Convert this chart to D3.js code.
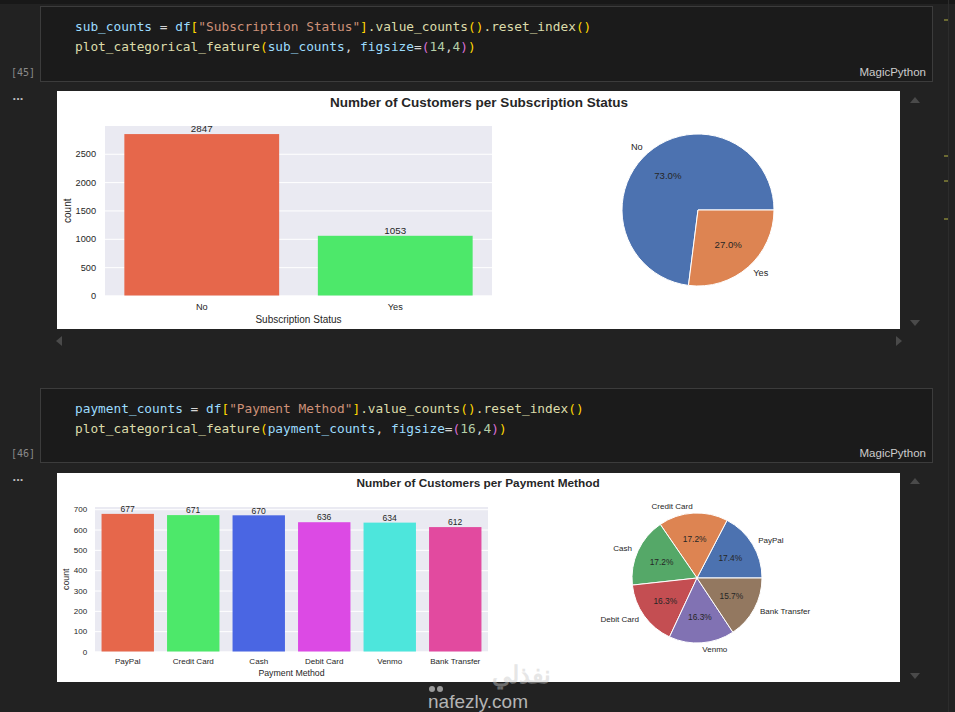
<!DOCTYPE html>
<html lang="en">
<head>
  <meta charset="utf-8">
  <title>Number of Customers</title>
  <script src="https://cdn.jsdelivr.net/npm/d3@7"></script>
<style>
body { margin: 0; background: #222; }
svg { display: block; }
text { font-family: "Liberation Sans", Arial, sans-serif; }
.code text, text.code { font-family: "DejaVu Sans Mono", "Liberation Mono", monospace; }
</style>
</head>
<body>
<svg id="page" width="955" height="712"></svg>
<script>

// data
var subCategories = ['No', 'Yes'];
var subValues = [2847, 1053];
var subTicks = [0, 500, 1000, 1500, 2000, 2500];

var payCategories = ['PayPal', 'Credit Card', 'Cash', 'Debit Card', 'Venmo', 'Bank Transfer'];
var payValues = [677, 671, 670, 636, 634, 612];
var payTicks = [0, 100, 200, 300, 400, 500, 600, 700];

var barColors = ['#e6674b', '#4de86a', '#4a66e3', '#dc4ae4', '#4de6dc', '#e24a9f'];
var pieColors = ['#4c72b0', '#dd8452', '#55a868', '#c44e52', '#8172b3', '#937860'];

var codeColors = { v: '#9cdcfe', o: '#d4d4d4', s: '#ce9178', f: '#dcdcaa', b1: '#ffd700', b2: '#da70d6', n: '#b5cea8' };

var cells = [
  {
    top: 6, bottom: 81, count: '[45]',
    lines: [
      [['sub_counts', 'v'], [' = ', 'o'], ['df', 'v'], ['[', 'b1'], ['"Subscription Status"', 's'], [']', 'b1'], ['.value_counts', 'f'], ['()', 'b1'], ['.reset_index', 'f'], ['()', 'b1']],
      [['plot_categorical_feature', 'f'], ['(', 'b1'], ['sub_counts', 'v'], [', ', 'o'], ['figsize', 'v'], ['=', 'o'], ['(', 'b2'], ['14', 'n'], [',', 'o'], ['4', 'n'], [')', 'b2'], [')', 'b1']]
    ]
  },
  {
    top: 388, bottom: 462, count: '[46]',
    lines: [
      [['payment_counts', 'v'], [' = ', 'o'], ['df', 'v'], ['[', 'b1'], ['"Payment Method"', 's'], [']', 'b1'], ['.value_counts', 'f'], ['()', 'b1'], ['.reset_index', 'f'], ['()', 'b1']],
      [['plot_categorical_feature', 'f'], ['(', 'b1'], ['payment_counts', 'v'], [', ', 'o'], ['figsize', 'v'], ['=', 'o'], ['(', 'b2'], ['16', 'n'], [',', 'o'], ['4', 'n'], [')', 'b2'], [')', 'b1']]
    ]
  }
];

var svg = d3.select('#page');
var textColor = '#262626';

// editor chrome
svg.append('rect').attr('width', 955).attr('height', 712).attr('fill', '#222222');
svg.append('rect').attr('width', 955).attr('height', 4).attr('fill', '#181818');
svg.append('line').attr('x1', 948.5).attr('x2', 948.5).attr('y1', 0).attr('y2', 712).attr('stroke', '#2c2c2c');
[19, 155, 180, 218].forEach(function (y) {
  svg.append('rect').attr('x', 944).attr('y', y).attr('width', 4).attr('height', 2).attr('fill', '#6b6a32');
});

cells.forEach(function (c) {
  svg.append('rect')
    .attr('x', 40.5).attr('y', c.top + .5)
    .attr('width', 892).attr('height', c.bottom - c.top)
    .attr('fill', '#1b1b1b').attr('stroke', '#3c3c3c');
  var code = svg.append('g').attr('class', 'code');
  c.lines.forEach(function (tokens, i) {
    var t = code.append('text')
      .attr('x', 75).attr('y', c.top + 25 + i * 20)
      .attr('font-size', 12.8)
      .attr('xml:space', 'preserve');
    tokens.forEach(function (tk) {
      t.append('tspan').attr('fill', codeColors[tk[1]]).text(tk[0]);
    });
  });
  svg.append('text').attr('class', 'code')
    .attr('x', 11).attr('y', c.bottom - 5)
    .attr('font-size', 10).attr('fill', '#8a8a8a').text(c.count);
  svg.append('text')
    .attr('x', 926).attr('y', c.bottom - 5)
    .attr('text-anchor', 'end')
    .attr('font-size', 11.5).attr('fill', '#cccccc').text('MagicPython');
  svg.append('text')
    .attr('x', 18).attr('y', c.bottom + 19)
    .attr('text-anchor', 'middle')
    .attr('font-size', 13).attr('font-weight', 'bold').attr('fill', '#bbbbbb').text('...');
});

function triangle(x, y, dir) {
  var p = {
    up: [[x - 5, y + 3], [x + 5, y + 3], [x, y - 3]],
    down: [[x - 5, y - 3], [x + 5, y - 3], [x, y + 3]],
    left: [[x + 3, y - 5], [x + 3, y + 5], [x - 3, y]],
    right: [[x - 3, y - 5], [x - 3, y + 5], [x + 3, y]]
  }[dir];
  svg.append('polygon').attr('points', p.join(' ')).attr('fill', '#4a4a4a');
}
triangle(915, 100, 'up');
triangle(915, 323, 'down');
triangle(59, 341, 'left');
triangle(899, 341, 'right');
triangle(915, 481, 'up');
triangle(915, 676, 'down');

// one figure: bar plot + pie, like plot_categorical_feature
function drawFeature(cfg) {
  var fig = svg.append('g');
  var k = cfg.scale;
  fig.append('rect')
    .attr('x', cfg.x0).attr('y', cfg.y0)
    .attr('width', cfg.x1 - cfg.x0).attr('height', cfg.y1 - cfg.y0)
    .attr('fill', '#ffffff');

  fig.append('text')
    .attr('x', cfg.titleX).attr('y', cfg.titleY)
    .attr('text-anchor', 'middle').attr('dominant-baseline', 'central')
    .attr('font-size', 13.5 * k).attr('font-weight', 'bold').attr('fill', textColor)
    .text(cfg.title);

  var b = cfg.bar;
  var x = d3.scaleBand().domain(cfg.categories).range([b.left, b.right]).paddingInner(0.2).paddingOuter(0.1);
  var y = d3.scaleLinear().domain([0, d3.max(cfg.values) * 1.05]).range([b.bottom, b.top]);

  fig.append('rect')
    .attr('x', b.left).attr('y', b.top)
    .attr('width', b.right - b.left).attr('height', b.bottom - b.top)
    .attr('fill', '#eaeaf2');

  var yAxis = d3.axisLeft(y).tickValues(cfg.ticks).tickFormat(d3.format('d'))
    .tickSize(-(b.right - b.left)).tickPadding(9 * k);
  var ya = fig.append('g').attr('transform', 'translate(' + b.left + ',0)').call(yAxis);
  ya.select('.domain').remove();
  ya.selectAll('.tick line').attr('stroke', '#ffffff').attr('stroke-width', 1);
  ya.selectAll('.tick text').attr('fill', textColor).attr('font-size', 9.2 * k)
    .attr('font-family', '"Liberation Sans", Arial, sans-serif');

  fig.selectAll(null).data(cfg.values).enter().append('rect')
    .attr('x', function (d, i) { return x(cfg.categories[i]); })
    .attr('y', function (d) { return y(d); })
    .attr('width', x.bandwidth())
    .attr('height', function (d) { return y(0) - y(d); })
    .attr('fill', function (d, i) { return barColors[i]; });

  fig.selectAll(null).data(cfg.values).enter().append('text')
    .attr('x', function (d, i) { return x(cfg.categories[i]) + x.bandwidth() / 2; })
    .attr('y', function (d) { return y(d) - 2 * k; })
    .attr('text-anchor', 'middle')
    .attr('font-size', 9.8 * k).attr('fill', textColor)
    .text(function (d) { return d; });

  var xAxis = d3.axisBottom(x).tickSize(0).tickPadding(8 * k);
  var xa = fig.append('g').attr('transform', 'translate(0,' + b.bottom + ')').call(xAxis);
  xa.select('.domain').remove();
  xa.selectAll('.tick text').attr('fill', textColor).attr('font-size', 9.2 * k)
    .attr('font-family', '"Liberation Sans", Arial, sans-serif');

  fig.append('text')
    .attr('x', (b.left + b.right) / 2).attr('y', b.xlabelY)
    .attr('text-anchor', 'middle').attr('dominant-baseline', 'central')
    .attr('font-size', 10 * k).attr('fill', textColor).text(cfg.xlabel);
  fig.append('text')
    .attr('transform', 'translate(' + b.ylabelX + ',' + (b.top + b.bottom) / 2 + ')rotate(-90)')
    .attr('text-anchor', 'middle').attr('dominant-baseline', 'central')
    .attr('font-size', 10 * k).attr('fill', textColor).text('count');

  // pie: start at 3 o'clock, counter-clockwise
  var p = cfg.pie;
  var total = d3.sum(cfg.values);
  var arcs = d3.pie().sort(null).startAngle(Math.PI / 2).endAngle(Math.PI / 2 - 2 * Math.PI)(cfg.values);
  var arc = d3.arc().innerRadius(0).outerRadius(p.r);
  var pg = fig.append('g').attr('transform', 'translate(' + p.cx + ',' + p.cy + ')');
  pg.selectAll(null).data(arcs).enter().append('path')
    .attr('d', arc)
    .attr('fill', function (d, i) { return pieColors[i]; })
    .attr('stroke', '#ffffff').attr('stroke-width', 1);

  arcs.forEach(function (d, i) {
    var mid = (d.startAngle + d.endAngle) / 2;
    var sx = Math.sin(mid), sy = -Math.cos(mid);
    pg.append('text')
      .attr('x', sx * p.r * 1.1).attr('y', sy * p.r * 1.1)
      .attr('text-anchor', sx > 0 ? 'start' : 'end').attr('dominant-baseline', 'central')
      .attr('font-size', 9.2 * k).attr('fill', textColor)
      .text(cfg.categories[i]);
    pg.append('text')
      .attr('x', sx * p.r * 0.6).attr('y', sy * p.r * 0.6)
      .attr('text-anchor', 'middle').attr('dominant-baseline', 'central')
      .attr('font-size', 9.6 * k).attr('fill', textColor)
      .text((d.data / total * 100).toFixed(1) + '%');
  });
}

drawFeature({
  x0: 57, x1: 900, y0: 91, y1: 329, scale: 1,
  title: 'Number of Customers per Subscription Status', titleX: 479, titleY: 102,
  categories: subCategories, values: subValues, ticks: subTicks, xlabel: 'Subscription Status',
  bar: { left: 105, right: 492, top: 126, bottom: 295.5, xlabelY: 319.5, ylabelX: 67 },
  pie: { cx: 698, cy: 210, r: 76 }
});

drawFeature({
  x0: 57, x1: 900, y0: 473, y1: 682, scale: 0.875,
  title: 'Number of Customers per Payment Method', titleX: 478, titleY: 483,
  categories: payCategories, values: payValues, ticks: payTicks, xlabel: 'Payment Method',
  bar: { left: 95, right: 488, top: 507, bottom: 651.5, xlabelY: 672.5, ylabelX: 66 },
  pie: { cx: 697, cy: 578, r: 65 }
});

// watermark (kept clear of the tick labels)
svg.append('text')
  .attr('x', 492).attr('y', 683)
  .attr('text-anchor', 'start')
  .attr('font-family', '"DejaVu Sans", sans-serif')
  .attr('font-size', 24).attr('font-weight', 'bold')
  .attr('fill', '#c8c8c8').attr('opacity', 0.45)
  .text('نفذلي');
svg.append('circle').attr('cx', 432).attr('cy', 689).attr('r', 3).attr('fill', '#9a9a9a');
svg.append('circle').attr('cx', 440).attr('cy', 689).attr('r', 3).attr('fill', '#9a9a9a');
svg.append('text')
  .attr('x', 478).attr('y', 708)
  .attr('text-anchor', 'middle')
  .attr('font-family', '"Noto Sans", sans-serif')
  .attr('font-size', 19)
  .attr('fill', '#b4b4b4')
  .text('nafezly.com');

</script>
</body>
</html>
